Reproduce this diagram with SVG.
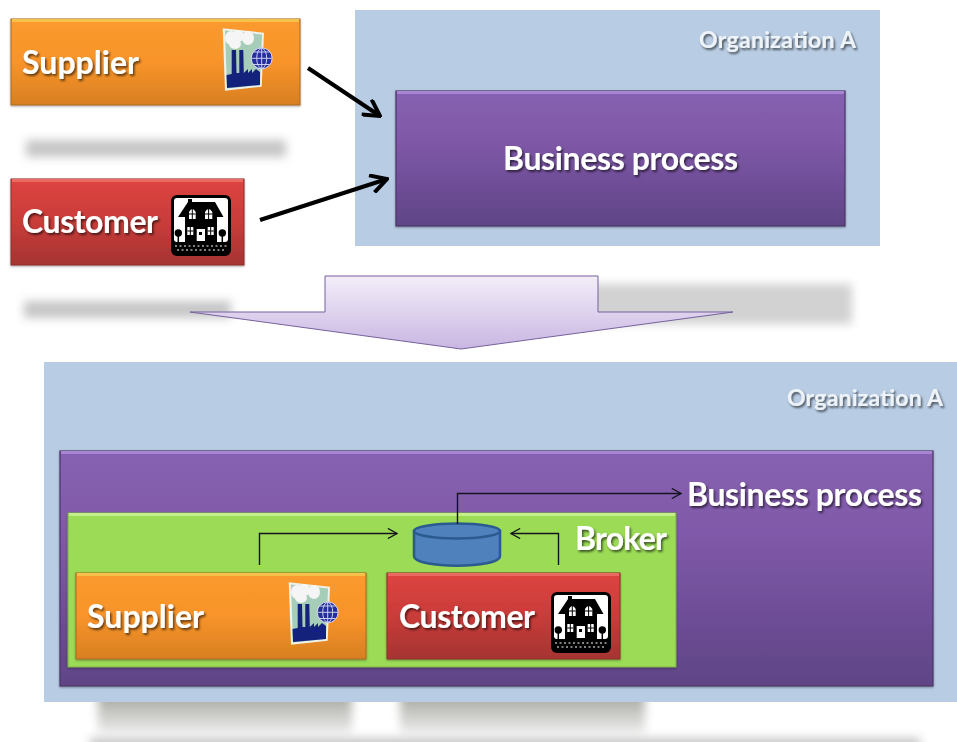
<svg xmlns="http://www.w3.org/2000/svg" width="957" height="742" viewBox="0 0 957 742">
<style>
text{font-family:Lato,"Open Sans",sans-serif;font-weight:700;fill:#fff;filter:url(#ts)}
.sm{font-size:23px;fill:#eef3f8}
.lg{font-size:32px}
.conn{fill:none;stroke:#000;stroke-width:4}
.thin{fill:none;stroke:#14141e;stroke-width:1.400}
.bar{fill:#c6c6c6;filter:url(#bl)}
.org{fill:#b8cce3}
.box{filter:url(#ds)}
.or{stroke:#a96a20;stroke-width:1}
.re{stroke:#8c2f2d;stroke-width:1}
.pu{stroke:#4a3668;stroke-width:1.200}
.gr{stroke:#7fae4a;stroke-width:1}
.hi{fill:none;stroke-width:3}
</style>
<defs>
<filter id="bl" x="-20%" y="-80%" width="140%" height="260%"><feGaussianBlur stdDeviation="5"/></filter>
<filter id="ts" x="-10%" y="-20%" width="125%" height="150%"><feGaussianBlur in="SourceGraphic" stdDeviation=".35" result="s"/><feDropShadow in="s" dx="1.500" dy="2" stdDeviation="1.300" flood-color="#000" flood-opacity=".6"/></filter>
<filter id="ds" x="-5%" y="-10%" width="110%" height="120%"><feDropShadow dx="0" dy="1" stdDeviation="1.200" flood-color="#000" flood-opacity=".35"/></filter>
<linearGradient id="or" x1="0" y1="0" x2="0" y2="1"><stop offset="0" stop-color="#fb9a2e"/><stop offset=".5" stop-color="#f8942a"/><stop offset="1" stop-color="#d87f22"/></linearGradient>
<linearGradient id="re" x1="0" y1="0" x2="0" y2="1"><stop offset="0" stop-color="#dd4441"/><stop offset=".5" stop-color="#c93c39"/><stop offset="1" stop-color="#a53432"/></linearGradient>
<linearGradient id="pu" x1="0" y1="0" x2="0" y2="1"><stop offset="0" stop-color="#8761b1"/><stop offset=".35" stop-color="#8059a9"/><stop offset="1" stop-color="#5f4486"/></linearGradient>
<linearGradient id="li" x1="0" y1="0" x2="0" y2="1"><stop offset="0" stop-color="#f3eef9"/><stop offset="1" stop-color="#c9b6e2"/></linearGradient>
<linearGradient id="fade" x1="0" y1="0" x2="0" y2="1"><stop offset="0" stop-color="#a2a29b"/><stop offset="1" stop-color="#eeeeee"/></linearGradient>
<marker id="ah" viewBox="0 0 10 10" refX="9" refY="5" markerWidth="5" markerHeight="5" orient="auto"><path d="M1 0.5 L9 5 L1 9.5" fill="none" stroke="#000" stroke-width="2"/></marker>
<marker id="at" viewBox="0 0 12 12" refX="11" refY="6" markerWidth="11" markerHeight="11" markerUnits="userSpaceOnUse" orient="auto"><path d="M1 0.5 L11 6 L1 11.5" fill="none" stroke="#14141e" stroke-width="1.400"/></marker>
<symbol id="factory" viewBox="0 0 51 63" width="51" height="63" overflow="visible">
<path d="M0.700 0.300 L42 4.700 L39.700 58.700 L3 62.700 Z" fill="#eef2e8"/>
<path d="M3 2.500 L40 6.500 L38 57 L5 60.500 Z" fill="#a6cdb8"/>
<ellipse cx="9" cy="10" rx="6" ry="7" fill="#f5f5f5"/><ellipse cx="16" cy="8" rx="6" ry="6" fill="#f5f5f5"/><ellipse cx="26" cy="10" rx="6" ry="7" fill="#f5f5f5"/><ellipse cx="13" cy="16" rx="6" ry="5" fill="#f5f5f5"/>
<path d="M5 60 L4.500 47 L9.700 46 L9.700 22 L14 22 L14.500 45 L17.300 45 L17.300 22 L21.300 22 L21.800 45 L26 41 L26 45 L30 41 L30 45 L34 41 L38 44 L38 57 Z" fill="#14227c"/>
<circle cx="39.700" cy="30.300" r="10.500" fill="#242f9c" stroke="#d8dcf2" stroke-width="1"/>
<path d="M29.500 30.300 H50 M39.700 20 V40.500 M32 24 H47.500 M32 36.500 H47.500" stroke="#c9cfee" stroke-width="1" fill="none"/><ellipse cx="39.700" cy="30.300" rx="5" ry="10" fill="none" stroke="#c9cfee"/>
</symbol>
<symbol id="house" viewBox="0 0 60 61" width="60" height="61">
<rect width="60" height="61" rx="6" fill="#000"/>
<rect x="3" y="3" width="54" height="44" rx="3" fill="#fff"/>
<path d="M17 7 L17 4 L21 4 L21 7 L44 7 L52.500 22 L46 22 L46 48 L14 48 L14 22 L7 22 Z" fill="#000"/>
<path d="M18 24 V17 Q21.300 11 24.700 17 V24 Z M34 24 V17 Q37.600 11 41.300 17 V24 Z" fill="#fff"/>
<path d="M21.300 14 V24 M18 19 H24.700 M37.600 14 V24 M34 19 H41.300" stroke="#000" stroke-width="1"/>
<rect x="16.300" y="32" width="6" height="8" fill="#fff"/><rect x="36.700" y="32" width="6" height="8" fill="#fff"/><rect x="25.700" y="34" width="8.300" height="12" fill="#fff"/>
<path d="M19.300 32 V40 M16.300 36 H22.300 M39.700 32 V40 M36.700 36 H42.700" stroke="#000" stroke-width="1"/><rect x="28" y="37" width="3" height="3" fill="#000"/>
<circle cx="7.300" cy="38" r="3.700" fill="#000"/><circle cx="51.300" cy="38" r="3.700" fill="#000"/><path d="M7.300 40 V48 M51.300 40 V48" stroke="#000" stroke-width="1.500"/>
<path d="M4 51 H56 M6 55 H54" stroke="#aaa" stroke-width="1.300" stroke-dasharray="2 2.500"/>
</symbol>
</defs>
<rect width="957" height="742" fill="#fff"/>
<rect class="bar" x="26" y="140" width="260" height="17"/>
<rect class="bar" x="24" y="301" width="207" height="17"/>
<rect class="bar" x="590" y="284" width="262" height="40" style="fill:#d2d2d2"/>
<rect class="bar" x="98" y="692" width="254" height="42" style="fill:url(#fade)"/>
<rect class="bar" x="400" y="692" width="245" height="42" style="fill:url(#fade)"/>
<rect class="bar" x="90" y="738" width="830" height="12"/>
<g id="org-a-top"><rect class="org" x="355" y="10" width="525" height="236"/><text class="sm" x="699" y="48" textLength="157">Organization A</text></g>
<g id="process-top"><rect class="box pu" x="396" y="91" width="449" height="135" fill="url(#pu)"/><path class="hi" d="M397 92.500 H844" stroke="#a585d4"/><text class="lg" x="503" y="170" textLength="235">Business process</text></g>
<g id="supplier-top"><rect class="box or" x="11" y="19" width="289" height="86" fill="url(#or)"/><path class="hi" d="M12 20.500 H299" stroke="#f4c24a"/><text class="lg" x="22" y="74" textLength="117">Supplier</text><use href="#factory" x="222" y="28"/></g>
<g id="customer-top"><rect class="box re" x="11" y="179" width="233" height="86" fill="url(#re)"/><path class="hi" d="M12 180.500 H243" stroke="#ea6a62"/><text class="lg" x="22" y="233" textLength="136">Customer</text><use href="#house" x="171" y="195"/></g>
<g id="transform-arrow"><path d="M325 276 H598 V312 H733 L461 349 L190 312 H325 Z" fill="url(#li)" stroke="#75619c" stroke-width="1"/></g>
<g id="org-a-bottom"><rect class="org" x="44" y="362" width="913" height="340"/><text class="sm" x="787" y="406" textLength="156">Organization A</text></g>
<g id="process-bottom"><rect class="box pu" x="60" y="451" width="873" height="235" fill="url(#pu)"/><path class="hi" d="M61 452.500 H932" stroke="#a585d4"/><text class="lg" x="687" y="506" textLength="235">Business process</text></g>
<g id="broker"><rect class="box gr" x="68" y="513" width="608" height="154" fill="#9bdb57"/><path class="hi" d="M69 514.500 H675" stroke="#c4ef8a"/><text class="lg" x="575" y="550" textLength="92">Broker</text></g>
<g id="queue"><path d="M414 531 V556 C414 569 500 569 500 556 V531 Z" fill="#4f81bd" stroke="#2b5a8e" stroke-width="2.500"/><ellipse cx="457" cy="531" rx="43" ry="7.500" fill="#4f81bd" stroke="#2b5a8e" stroke-width="2.500"/></g>
<g id="supplier-bottom"><rect class="box or" x="76" y="573" width="290" height="86" fill="url(#or)"/><path class="hi" d="M77 574.500 H365" stroke="#f4c24a"/><text class="lg" x="87" y="628" textLength="117">Supplier</text><use href="#factory" x="288" y="582"/></g>
<g id="customer-bottom"><rect class="box re" x="387" y="573" width="233" height="86" fill="url(#re)"/><path class="hi" d="M388 574.500 H619" stroke="#ea6a62"/><text class="lg" x="399" y="628" textLength="136">Customer</text><use href="#house" x="551" y="592"/></g>
<g id="connectors">
<path class="conn" d="M308 68 L380 116" marker-end="url(#ah)"/>
<path class="conn" d="M260 220 L387 179" marker-end="url(#ah)"/>
<path class="thin" d="M259.500 565 V533.500 H397" marker-end="url(#at)"/>
<path class="thin" d="M558.500 565 V533.500 H511" marker-end="url(#at)"/>
<path class="thin" d="M457.500 524 V493.500 H681" marker-end="url(#at)"/>
</g>
</svg>
